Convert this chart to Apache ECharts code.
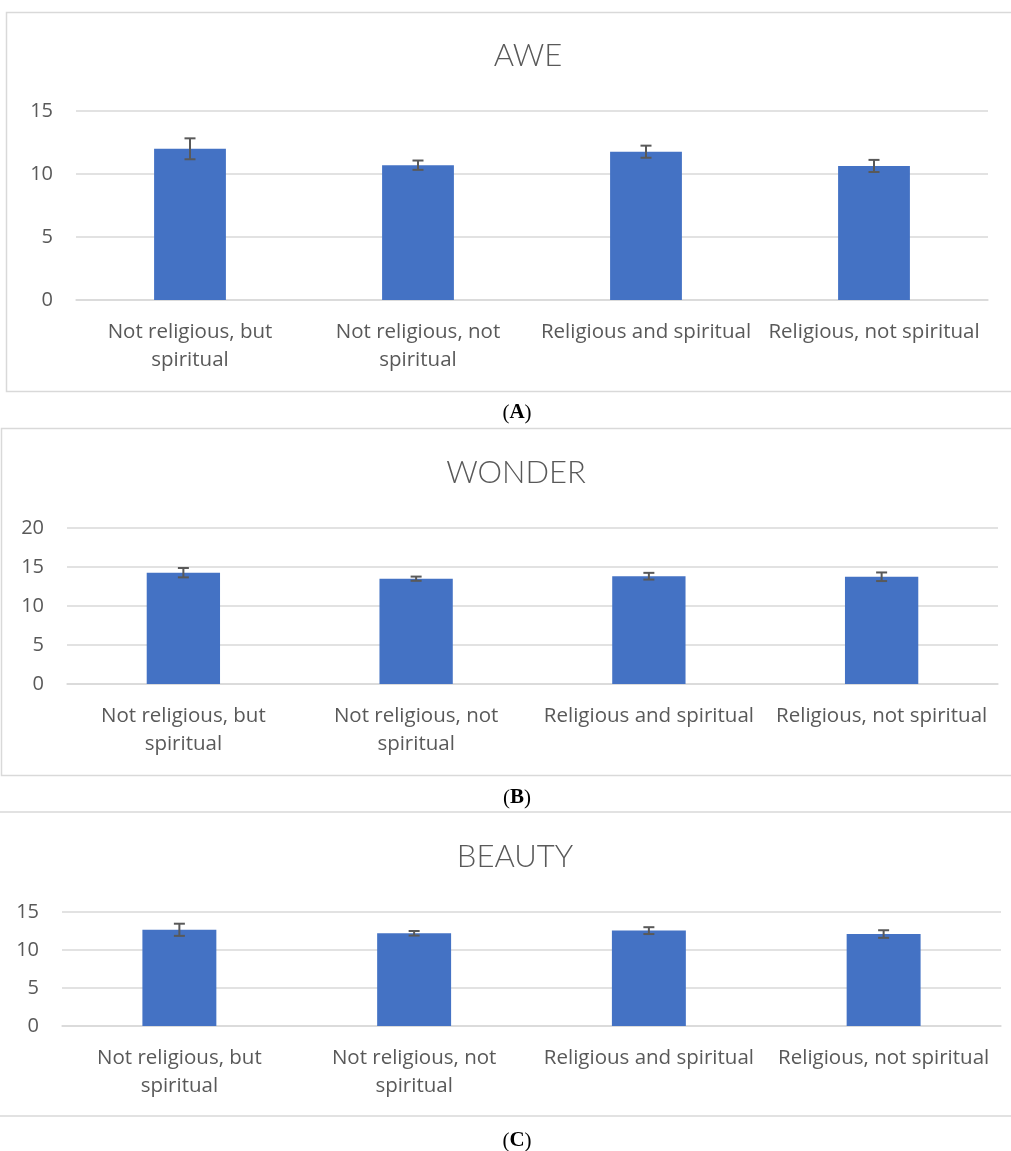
<!DOCTYPE html>
<html>
<head>
<meta charset="utf-8">
<script src="https://cdn.jsdelivr.net/npm/echarts@6/dist/echarts.min.js"></script>
<style>
  html, body { margin: 0; padding: 0; background: #fff; }
  #main { width: 1011px; height: 1151px; }
</style>
</head>
<body>
<div id="main"></div>
<script>
// categories shared by the three panels
const categories = [
  "Not religious, but\nspiritual",
  "Not religious, not\nspiritual",
  "Religious and spiritual",
  "Religious, not spiritual"
];

// panel A: AWE
const aweMeans = [12.0, 10.7, 11.77, 10.64];
const aweErrors = [0.83, 0.37, 0.48, 0.48];
// panel B: WONDER
const wonderMeans = [14.27, 13.5, 13.82, 13.75];
const wonderErrors = [0.6, 0.27, 0.43, 0.55];
// panel C: BEAUTY
const beautyMeans = [12.66, 12.2, 12.55, 12.1];
const beautyErrors = [0.8, 0.3, 0.45, 0.5];

const yTicksA = { max: 15, interval: 5 };
const yTicksB = { max: 20, interval: 5 };
const yTicksC = { max: 15, interval: 5 };

const textColor = "#595959";
const gridColor = "#d9d9d9";
const font = "'Open Sans', 'Noto Sans', sans-serif";

let chart = echarts.init(document.getElementById("main"));

function errData(means, errs) {
  return means.map((m, i) => [i, m - errs[i], m + errs[i]]);
}

function renderErr(params, api) {
  let top = api.coord([api.value(0), api.value(2)]);
  let bot = api.coord([api.value(0), api.value(1)]);
  let hw = 5.5;
  let st = { stroke: "#595959", lineWidth: 2 };
  return {
    type: "group",
    children: [
      { type: "line", shape: { x1: top[0], y1: top[1], x2: bot[0], y2: bot[1] }, style: st },
      { type: "line", shape: { x1: top[0] - hw, y1: top[1], x2: top[0] + hw, y2: top[1] }, style: st },
      { type: "line", shape: { x1: bot[0] - hw, y1: bot[1], x2: bot[0] + hw, y2: bot[1] }, style: st }
    ]
  };
}

function xAxisFor(gi) {
  return {
    type: "category",
    gridIndex: gi,
    data: categories,
    axisLine: { show: true, lineStyle: { color: gridColor, width: 1.5 } },
    axisTick: { show: false },
    axisLabel: {
      color: textColor,
      fontSize: 20.5,
      fontFamily: font,
      lineHeight: 28,
      margin: 18,
      interval: 0
    }
  };
}

function yAxisFor(gi, t) {
  return {
    type: "value",
    gridIndex: gi,
    min: 0,
    max: t.max,
    interval: t.interval,
    axisLine: { show: false },
    axisTick: { show: false },
    splitLine: { lineStyle: { color: gridColor, width: 1.5 } },
    axisLabel: { color: textColor, fontSize: 20, fontFamily: font, margin: 23 }
  };
}

function barSeries(gi, means) {
  return {
    type: "bar",
    xAxisIndex: gi,
    yAxisIndex: gi,
    data: means,
    barWidth: "31.5%",
    itemStyle: { color: "#4472C4" },
    silent: true
  };
}

function errSeries(gi, means, errs) {
  return {
    type: "custom",
    xAxisIndex: gi,
    yAxisIndex: gi,
    data: errData(means, errs),
    renderItem: renderErr,
    z: 5,
    silent: true
  };
}

function caption(letter, y) {
  return {
    type: "text",
    x: 517,
    y: y,
    style: {
      text: "{p|(}{b|" + letter + "}{p|)}",
      align: "center",
      verticalAlign: "middle",
      rich: {
        p: { fontFamily: "'Liberation Serif', serif", fontSize: 21, fill: "#000" },
        b: { fontFamily: "'Liberation Serif', serif", fontSize: 21, fontWeight: "bold", fill: "#000" }
      }
    }
  };
}

function heading(txt, x, y) {
  return {
    type: "text",
    x: x,
    y: y,
    style: {
      text: txt,
      fill: textColor,
      fontSize: 31,
      fontFamily: "Lato, 'Open Sans', sans-serif",
      fontWeight: 300,
      align: "center",
      verticalAlign: "middle"
    }
  };
}

chart.setOption({
  animation: false,
  grid: [
    { left: 76, right: 23, top: 111, height: 189 },
    { left: 67, right: 13, top: 528, height: 156 },
    { left: 62, right: 10, top: 912, height: 114 }
  ],
  xAxis: [xAxisFor(0), xAxisFor(1), xAxisFor(2)],
  yAxis: [yAxisFor(0, yTicksA), yAxisFor(1, yTicksB), yAxisFor(2, yTicksC)],
  series: [
    barSeries(0, aweMeans),
    errSeries(0, aweMeans, aweErrors),
    barSeries(1, wonderMeans),
    errSeries(1, wonderMeans, wonderErrors),
    barSeries(2, beautyMeans),
    errSeries(2, beautyMeans, beautyErrors)
  ],
  graphic: [
    // panel frames
    { type: "rect", shape: { x: 6.5, y: 12.5, width: 1100, height: 379 },
      style: { fill: "none", stroke: gridColor, lineWidth: 1.5 }, z: -1 },
    { type: "rect", shape: { x: 1.5, y: 428.5, width: 1100, height: 347 },
      style: { fill: "none", stroke: gridColor, lineWidth: 1.5 }, z: -1 },
    { type: "line", shape: { x1: 0, y1: 812, x2: 1011, y2: 812 },
      style: { stroke: gridColor, lineWidth: 1.5 } },
    { type: "line", shape: { x1: 0, y1: 1116, x2: 1011, y2: 1116 },
      style: { stroke: gridColor, lineWidth: 1.5 } },
    heading("AWE", 528, 56),
    heading("WONDER", 516, 473),
    heading("BEAUTY", 515, 857),
    caption("A", 413),
    caption("B", 798),
    caption("C", 1141)
  ]
});

window.onresize = function () {
  chart.resize();
};
</script>
</body>
</html>
